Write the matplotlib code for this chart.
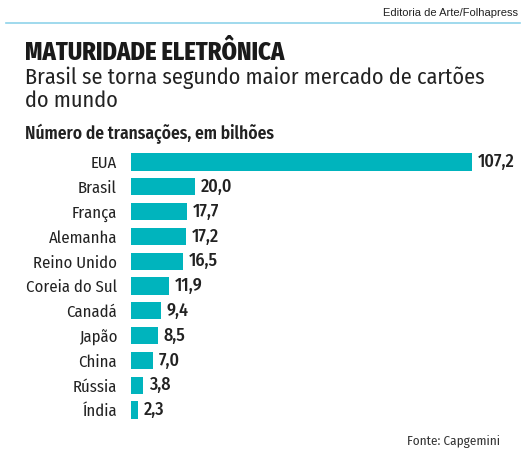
import matplotlib
matplotlib.use("Agg")
import matplotlib.pyplot as plt
from matplotlib.lines import Line2D

paises = ['EUA', 'Brasil', 'França', 'Alemanha', 'Reino Unido', 'Coreia do Sul',
          'Canadá', 'Japão', 'China', 'Rússia', 'Índia']
transacoes = [107.2, 20.0, 17.7, 17.2, 16.5, 11.9, 9.4, 8.5, 7.0, 3.8, 2.3]

teal = '#00b4bd'
plt.rcParams['font.family'] = ['Fira Sans Condensed', 'DejaVu Sans']

W, H = 528, 453
fig = plt.figure(figsize=(W / 100, H / 100), dpi=100)

# cabeçalho
fig.text(518 / W, 1 - 13 / H, 'Editoria de Arte/Folhapress', ha='right', va='center',
         fontsize=8, family='Liberation Sans', color='#222222')
fig.add_artist(Line2D([6 / W, 520 / W], [1 - 23 / H, 1 - 23 / H], color='#8fd3ea', lw=1.2))
fig.text(25 / W, 1 - 53 / H, 'MATURIDADE ELETRÔNICA', ha='left', va='center',
         fontsize=17.5, fontweight=800, color='#1a1a1a')
fig.text(25 / W, 1 - 89 / H, 'Brasil se torna segundo maior mercado de cartões\ndo mundo',
         ha='left', va='center', fontsize=16, color='#222222', linespacing=1.02)
fig.text(25 / W, 1 - 134 / H, 'Número de transações, em bilhões', ha='left', va='center',
         fontsize=12.5, fontweight=600, color='#222222')

# barras
ax = fig.add_axes([131 / W, 30.6 / H, 341 / W, 272.8 / H])
y = list(range(len(paises)))
ax.barh(y, transacoes, height=0.69, color=teal)
ax.set_xlim(0, 107.2)
ax.set_ylim(len(paises) - 0.5, -0.5)
ax.set_yticks(y)
ax.set_yticklabels(paises, fontsize=12, color='#222222')
ax.tick_params(axis='y', length=0, pad=10)
ax.set_xticks([])
for s in ax.spines.values():
    s.set_visible(False)
for yi, v in zip(y, transacoes):
    ax.text(v + 1.8, yi, f'{v:.1f}'.replace('.', ','), ha='left', va='center',
            fontsize=13, fontweight=500, color='#222222')

fig.text(500 / W, 1 - 442 / H, 'Fonte: Capgemini', ha='right', va='center',
         fontsize=9.5, color='#333333')

fig.savefig('out.png', dpi=100)
